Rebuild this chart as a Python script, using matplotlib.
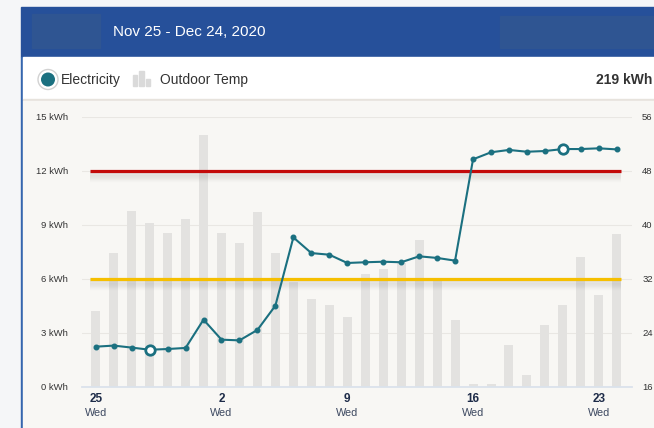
import numpy as np
import matplotlib
matplotlib.use("Agg")
import matplotlib.pyplot as plt
from matplotlib.patches import Rectangle, Circle
from matplotlib import patheffects as pe

plt.rcParams['font.family'] = ['Liberation Sans', 'DejaVu Sans']

# daily data, Nov 25 - Dec 24, 2020
days = [25, 26, 27, 28, 29, 30, 1, 2, 3, 4, 5, 6, 7, 8, 9, 10, 11, 12, 13, 14,
        15, 16, 17, 18, 19, 20, 21, 22, 23, 24]
electricity = [2.24, 2.30, 2.19, 2.07, 2.11, 2.17, 3.74, 2.63, 2.59, 3.17,
               4.52, 8.31, 7.44, 7.35, 6.89, 6.93, 6.96, 6.93, 7.26, 7.17,
               7.02, 12.65, 13.04, 13.17, 13.07, 13.11, 13.22, 13.22, 13.26, 13.20]
outdoor_temp = [27.3, 35.8, 42.1, 40.3, 38.8, 40.9, 53.3, 38.8, 37.3, 41.9,
                35.8, 31.5, 29.0, 28.1, 26.4, 32.8, 33.5, 34.3, 37.8, 32.0,
                25.9, 16.4, 16.4, 22.2, 17.8, 25.2, 28.1, 35.2, 29.6, 38.6]
hollow_days = [3, 26]          # indices shown with open markers
kwh_ticks = [0, 3, 6, 9, 12, 15]
temp_ticks = [16, 24, 32, 40, 48, 56]
high_line = 48
low_line = 32
tick_idx = [0, 7, 14, 21, 28]
tick_dow = ['Wed'] * 5
total = '219 kWh'
title = 'Nov 25 - Dec 24, 2020'

teal = '#1b7080'
x = np.arange(len(days))

fig = plt.figure(figsize=(6.54, 4.28), dpi=100, facecolor='#f5f6f8')

# page frame / header drawn in pixel coords
bg = fig.add_axes([0, 0, 1, 1], zorder=0)
bg.set_xlim(0, 654)
bg.set_ylim(428, 0)
bg.axis('off')
bg.add_patch(Rectangle((21, 7), 633, 50, color='#26509a'))
bg.add_patch(Rectangle((32, 14), 68, 34, color='#2f5592'))
bg.add_patch(Rectangle((500, 16), 154, 32, color='#2f5592'))
bg.add_patch(Rectangle((20.5, 57), 2, 371, color='#3566ae'))
bg.add_patch(Rectangle((22.5, 57), 632, 42, color='white'))
bg.add_patch(Rectangle((22.5, 98.5), 632, 2.5, color='#e7e3dd'))
bg.add_patch(Rectangle((22.5, 101), 632, 327, color='#f8f7f4'))
bg.text(113, 32, title, color='white', fontsize=11, va='center')

# legend row
bg.add_patch(Circle((48, 79.5), 10, fc='white', ec='#d2d2d2', lw=1))
bg.add_patch(Circle((48, 79.5), 7, fc=teal, ec='none'))
bg.text(61, 79.5, 'Electricity', fontsize=10, color='#333333', va='center')
for bx, top in zip([133, 139.3, 145.6], [75, 71, 79]):
    bg.add_patch(Rectangle((bx, top), 4.3, 86 - top, color='#dadada'))
bg.text(160, 79.5, 'Outdoor Temp', fontsize=10, color='#333333', va='center')
bg.text(652, 79.5, total, fontsize=10, color='#333333', va='center',
        ha='right', fontweight='bold')

# chart
ax_t = fig.add_axes([81.7 / 654, 41 / 428, 550 / 654, 270 / 428], zorder=1)
ax_t.patch.set_visible(False)
ax_t.bar(x, outdoor_temp, width=0.5, color='#e3e2e0', zorder=1)
ax_t.set_ylim(temp_ticks[0], temp_ticks[-1])
ax_t.set_xlim(-0.78, 29.83)

# soft drop shadow under the reference lines
shadow = [pe.SimpleLineShadow(offset=(0, -o), shadow_color='#444444',
                              alpha=0.045 * (1 - o / 8.5), linewidth=3)
          for o in np.arange(1.0, 8.0, 0.8)] + [pe.Normal()]
ax_t.plot([x[0] - 0.3, x[-1] + 0.25], [high_line, high_line], color='#c30a0a', lw=2.3,
          solid_capstyle='butt', path_effects=shadow, zorder=3)
ax_t.plot([x[0] - 0.3, x[-1] + 0.25], [low_line, low_line], color='#f6bf00', lw=2.3,
          solid_capstyle='butt', path_effects=shadow, zorder=3)

ax_t.grid(axis='y', color='#e9e7e3', lw=0.8, zorder=0)
ax_t.set_axisbelow(True)

ax_t.set_xticks(x[tick_idx])
ax_t.set_xticklabels([])
ax_t.tick_params(axis='x', length=0)
for i, dow in zip(tick_idx, tick_dow):
    ax_t.text(x[i], -0.045, str(days[i]), transform=ax_t.get_xaxis_transform(),
              ha='center', va='center', fontsize=8.5, fontweight='bold', color='#1d2b48')
    ax_t.text(x[i], -0.095, dow, transform=ax_t.get_xaxis_transform(),
              ha='center', va='center', fontsize=7.8, color='#3c4860')

for s in ['top', 'left', 'right']:
    ax_t.spines[s].set_visible(False)
ax_t.spines['bottom'].set_color('#dbe2ec')
ax_t.spines['bottom'].set_linewidth(1.3)

ax_e = ax_t.twinx()
ax_e.set_ylim(kwh_ticks[0], kwh_ticks[-1])
ax_e.plot(x, electricity, color=teal, lw=1.5, marker='o', ms=3.3, zorder=4)
ax_e.plot(x[hollow_days], np.array(electricity)[hollow_days], 'o', ms=6.8,
          mfc='white', mec=teal, mew=2, zorder=5)
ax_e.set_yticks(kwh_ticks)
ax_e.set_yticklabels([f'{v} kWh' for v in kwh_ticks])
ax_e.yaxis.tick_left()
ax_e.tick_params(axis='y', length=0, pad=9.9, labelsize=6.8, labelcolor='#333333')
for s in ax_e.spines.values():
    s.set_visible(False)

# temperature labels on the right (set after twinx, which resets the side)
ax_t.set_yticks(temp_ticks)
ax_t.set_yticklabels([str(t) for t in temp_ticks])
ax_t.yaxis.tick_right()
ax_t.tick_params(axis='y', length=0, pad=7.5, labelsize=6.8, labelcolor='#333333')

fig.savefig('out.png', dpi=100, facecolor=fig.get_facecolor())
